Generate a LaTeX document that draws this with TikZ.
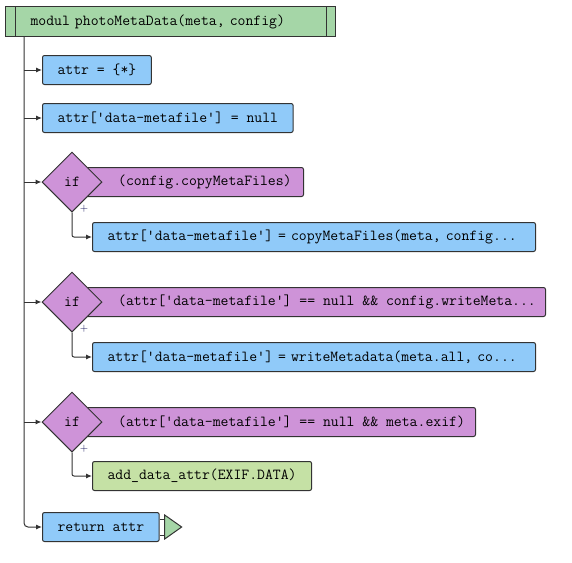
\documentclass[tikz,border=0pt]{standalone}
\usepackage{fontspec}
\usetikzlibrary{shapes.geometric,positioning,arrows.meta}

\definecolor{headgreen}{HTML}{A5D6A7}
\definecolor{stmtblue}{HTML}{90CAF9}
\definecolor{condpurple}{HTML}{CE93D8}
\definecolor{callgreen}{HTML}{C5E1A5}
\definecolor{linegray}{HTML}{333333}

\tikzset{
  code/.style={font=\ttfamily\fontsize{15.3}{17}\selectfont},
  stmt/.style={code, draw=linegray, line width=1pt, fill=stmtblue, rounded corners=2pt,
    minimum height=29pt, inner xsep=15pt, inner ysep=0pt, anchor=west, align=left},
  cond/.style={draw=linegray, line width=1pt, fill=condpurple, rounded corners=2pt,
    minimum height=29pt, inner sep=0pt, anchor=west},
  condtext/.style={code, inner sep=0pt, anchor=west},
  test/.style={code, diamond, aspect=1, draw=linegray, line width=1pt, fill=condpurple,
    minimum width=60pt, minimum height=60pt, inner sep=0pt},
  flow/.style={draw=linegray, line width=1pt, -{Latex[length=6pt,width=5pt]}},
  yes/.style={font=\sffamily\fontsize{11}{11}\selectfont, text=blue!30!black, inner sep=0pt}
}

\begin{document}
\begin{tikzpicture}[x=1pt,y=-1pt]
\useasboundingbox (0,0) rectangle (572,562);

% module header
\node[code, draw=linegray, line width=1pt, fill=headgreen, anchor=north west,
  minimum height=30pt, text width=280pt, inner xsep=25pt, align=left] (head) at (5,6)
  {modul photoMetaData(meta, config)};
\draw[linegray, line width=1pt] ([xshift=10pt]head.north west) -- ([xshift=10pt]head.south west);
\draw[linegray, line width=1pt] ([xshift=-10pt]head.north east) -- ([xshift=-10pt]head.south east);
\coordinate (spine) at (24,36);

\node[stmt] (attrInit) at (42,70) {attr = \{*\}};
\node[stmt] (attrNull) at (42,118) {attr['data-metafile'] = null};

% first test
\node[cond, minimum width=218pt] (bar1) at (85,182) {};
\node[condtext, right=33pt of bar1.west] (cond1) {(config.copyMetaFiles)};
\node[test] (if1) at (72,182) {if};
\node[stmt, text width=413pt] (copyMeta) at (92,237)
  {attr['data-metafile'] = copyMetaFiles(meta, config...};

% second test
\node[cond, minimum width=460pt] (bar2) at (85,302) {};
\node[condtext, right=33pt of bar2.west] (cond2)
  {(attr['data-metafile'] == null \&\& config.writeMeta...};
\node[test] (if2) at (72,302) {if};
\node[stmt, text width=413pt] (writeMeta) at (92,357)
  {attr['data-metafile'] = writeMetadata(meta.all, co...};

% third test
\node[cond, minimum width=390pt] (bar3) at (85,422) {};
\node[condtext, right=33pt of bar3.west] (cond3)
  {(attr['data-metafile'] == null \&\& meta.exif)};
\node[test] (if3) at (72,422) {if};
\node[stmt, fill=callgreen, minimum width=217pt] (exifData) at (92,476) {add\_data\_attr(EXIF.DATA)};

\node[stmt, minimum width=115pt] (ret) at (42,527) {return attr};

% connectors
\draw[flow, rounded corners=4pt] (spine) |- (ret.west);
\foreach \n in {attrInit,attrNull,if1,if2,if3}
  \draw[flow] (spine |- \n.west) -- (\n.west);
\foreach \t/\b in {if1/copyMeta,if2/writeMeta,if3/exifData} {
  \draw[flow, rounded corners=2pt] (\t.south) |- (\b.west);
  \node[yes] (plus-\t) at ([shift={(12,-4)}]\t.south) {+};
}

% end mark
\draw[linegray, line width=1pt] ([yshift=8pt]ret.east) -- ++(5,0);
\draw[linegray, line width=1pt] ([yshift=-8pt]ret.east) -- ++(5,0);
\draw[linegray, line width=1pt, fill=headgreen] ([xshift=5pt]ret.east) ++(0,-12)
  -- ++(17,12) -- ++(-17,12) -- cycle;
\end{tikzpicture}
\end{document}
